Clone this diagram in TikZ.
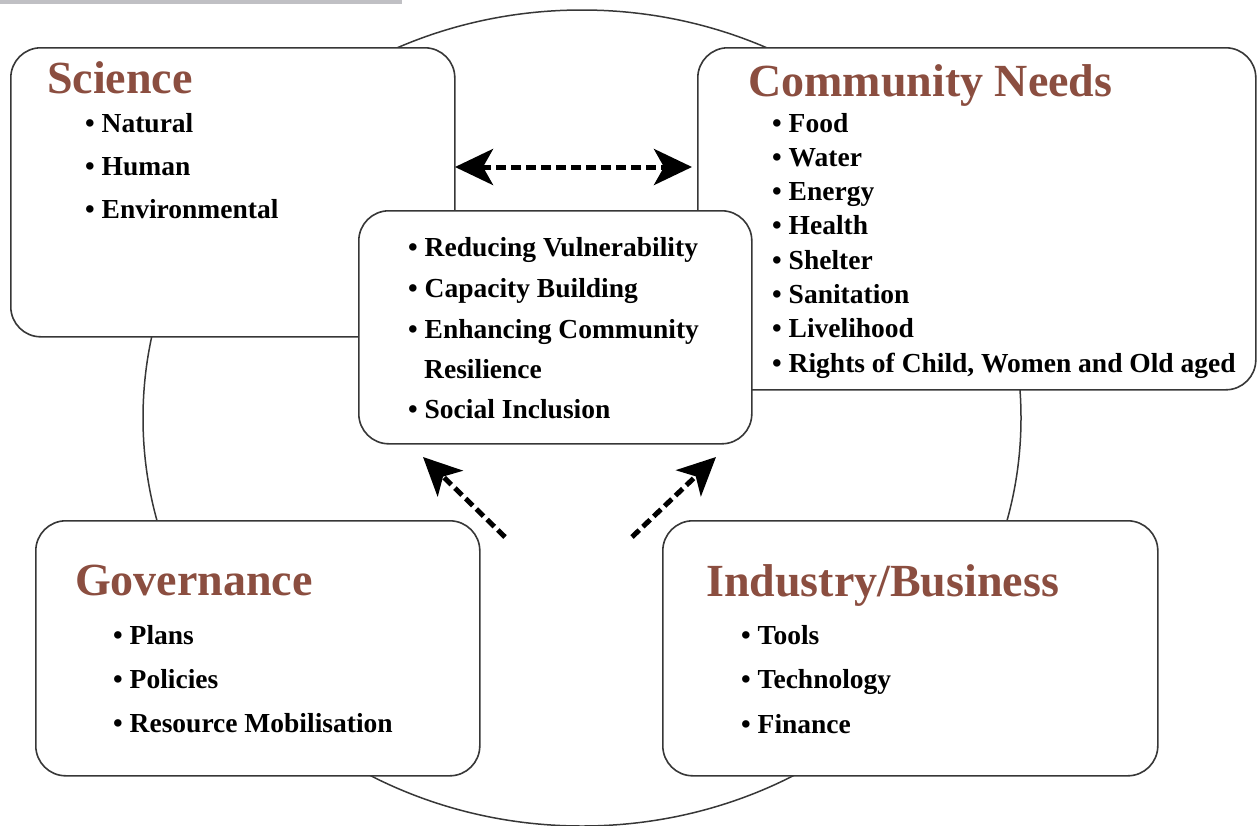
\documentclass[tikz,border=0pt]{standalone}
\usepackage{fontspec}
\setmainfont{Liberation Serif}
\usetikzlibrary{arrows.meta}

\definecolor{titlebrown}{RGB}{139,78,64}
\definecolor{boxline}{RGB}{55,55,55}
\definecolor{bargray}{RGB}{192,192,196}

\tikzset{
  panel/.style={draw=boxline, line width=1.6pt, fill=white, rounded corners=30pt, anchor=north west, inner sep=0pt},
  heading/.style={anchor=base west, text=titlebrown, font=\fontsize{46}{50}\selectfont\bfseries, inner sep=0pt},
  entry/.style={anchor=base west, font=\fontsize{27.5}{32}\selectfont\bfseries, inner sep=0pt},
  bigtip/.tip={Stealth[length=38pt,width=36pt,inset=10pt]},
  dasharrow/.style={line width=5pt, dash pattern=on 10pt off 5pt},
}

\begin{document}
\begin{tikzpicture}[x=1pt,y=-1pt]
	\useasboundingbox (0,0) rectangle (1257,825);

	% Grey strip at the top
	\fill[bargray] (0,0) rectangle (402,4);

	% Big circle behind the boxes
	\draw[boxline, line width=1.5pt] (582,418) ellipse [x radius=439, y radius=408];

	% Boxes
	\node[panel, minimum width=444pt, minimum height=289pt] (science) at (10,47) {};
	\node[panel, minimum width=558pt, minimum height=342pt] (needs) at (697,47) {};
	\node[panel, minimum width=393pt, minimum height=233pt] (core) at (358,210) {};
	\node[panel, minimum width=444pt, minimum height=255pt] (gov) at (35,520) {};
	\node[panel, minimum width=495pt, minimum height=255pt] (industry) at (662,520) {};

	% Headings
	\node[heading] (scienceT) at (47,93) {Science};
	\node[heading] (needsT) at (748,96) {Community Needs};
	\node[heading] (govT) at (75,595) {Governance};
	\node[heading] (industryT) at (706,596) {Industry/Business};

	% Science list
	\foreach \t [count=\i] in {Natural, Human, Environmental}
		\node[entry] (sci\i) at (85,{132+43*(\i-1)}) {\textbullet\ \t};

	% Community needs list
	\foreach \t [count=\i] in {Food, Water, Energy, Health, Shelter, Sanitation, Livelihood, {Rights of Child, Women and Old aged}}
		\node[entry] (need\i) at (772,{132+34.3*(\i-1)}) {\textbullet\ \t};

	% Centre list
	\node[entry] (core1) at (408,256) {\textbullet\ Reducing Vulnerability};
	\node[entry] (core2) at (408,297) {\textbullet\ Capacity Building};
	\node[entry] (core3) at (408,338) {\textbullet\ Enhancing Community};
	\node[entry] (core3b) at (424,378) {Resilience};
	\node[entry] (core4) at (408,418) {\textbullet\ Social Inclusion};

	% Governance list
	\foreach \t [count=\i] in {Plans, Policies, Resource Mobilisation}
		\node[entry] (gov\i) at (113,{644+44*(\i-1)}) {\textbullet\ \t};

	% Industry list
	\foreach \t [count=\i] in {Tools, Technology, Finance}
		\node[entry] (ind\i) at (741,{644+44.5*(\i-1)}) {\textbullet\ \t};

	% Arrows
	\coordinate (sciR) at (455,167);
	\coordinate (needsL) at (692,167);
	\draw[dasharrow, bigtip-bigtip] (sciR) -- (needsL);

	\coordinate (govTail) at (505,537);
	\coordinate (coreL) at (423,457);
	\draw[dasharrow, -bigtip] (govTail) -- (coreL);

	\coordinate (indTail) at (632,537);
	\coordinate (coreR) at (716,457);
	\draw[dasharrow, -bigtip] (indTail) -- (coreR);

\end{tikzpicture}
\end{document}
